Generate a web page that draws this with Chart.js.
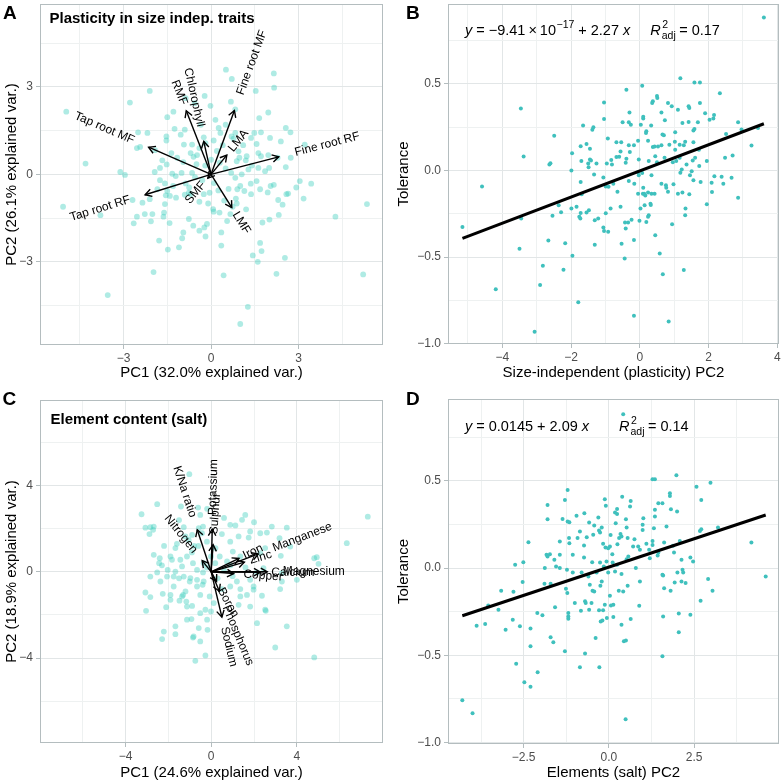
<!DOCTYPE html>
<html><head><meta charset="utf-8">
<script src="https://cdn.jsdelivr.net/npm/chart.js@4.4.1/dist/chart.umd.min.js"></script>
<style>
html,body{margin:0;padding:0;background:#fff;width:783px;height:782px;overflow:hidden}
canvas{position:absolute;display:block}
</style></head><body>
<canvas id="cA" width="391" height="391" style="left:0;top:0"></canvas>
<canvas id="cB" width="392" height="391" style="left:391px;top:0"></canvas>
<canvas id="cC" width="391" height="391" style="left:0;top:391px"></canvas>
<canvas id="cD" width="392" height="391" style="left:391px;top:391px"></canvas>
<script>
// ---------------- DATA ----------------
// Panel A: PCA of size-independent plasticity traits (scores)
const A_pc1 = [-2.10,-2.78,-4.96,-4.30,-1.29,-1.50,-1.25,-0.90,-2.50,-2.18,-2.54,-2.43,-1.53,-1.53,-1.04,-0.93,-0.65,-0.70,-0.48,-1.92,-1.36,-1.16,-1.67,-1.52,-1.75,-1.93,-3.11,-2.95,-1.33,-1.21,-1.01,-0.65,-0.87,-1.58,-1.84,-1.50,-0.76,-0.60,-0.50,-0.95,-0.55,-1.30,-0.90,-1.20,-0.75,-1.75,-2.10,
0.51,2.15,0.71,2.16,1.53,1.96,0.68,0.83,-0.02,-0.22,-0.87,-0.56,1.65,1.71,2.56,2.72,3.21,2.02,1.56,1.62,1.22,1.19,1.71,1.96,2.28,2.39,2.73,2.56,2.64,3.04,3.43,0.15,0.26,0.32,-0.25,-0.19,0.09,0.83,0.77,1.48,1.37,0.94,0.97,0.88,1.28,1.05,0.69,0.83,1.62,1.85,1.99,1.36,1.56,1.00,1.14,1.37,1.94,1.68,2.92,
-5.07,-3.79,-2.69,-2.35,-2.54,-2.27,-2.01,-2.65,-2.06,-1.78,-1.97,-3.54,-1.48,-1.10,-0.99,-1.42,-1.61,-1.63,-1.58,-1.41,-0.95,-0.61,-0.40,-0.23,-0.19,-0.14,-0.76,-0.40,-0.05,0.07,0.09,0.29,0.35,0.35,0.43,0.88,0.85,0.90,1.26,1.00,1.68,1.73,1.43,1.60,2.24,2.53,1.76,2.00,2.32,2.30,2.45,2.58,2.04,2.15,3.17,4.26,5.34,5.21,0.74,0.66,-0.25,-0.70,-1.55,
0.30,0.50,-0.20,0.10,0.60,-0.30,0.20,0.40,-0.40,0.70,0.00,0.45,-0.10,0.25,1.40,1.10,0.50,-0.35,0.55,1.20];
const A_pc2 = [2.86,2.46,2.15,0.37,2.15,1.96,1.56,1.53,1.44,1.42,0.90,0.94,1.30,1.16,1.36,1.02,1.02,0.73,0.66,0.83,0.73,0.57,0.48,0.34,0.22,0.08,0.08,-0.02,0.02,-0.06,0.05,0.05,-0.31,-0.31,-0.51,-0.57,-0.63,0.60,0.35,0.42,-0.10,-0.40,-0.70,-0.80,-0.45,-0.20,-0.85,
3.59,3.46,3.27,2.97,2.86,2.12,2.49,2.23,2.35,2.69,2.61,2.44,1.93,1.44,1.59,1.44,1.02,1.25,1.04,0.73,0.62,0.48,0.62,0.66,0.57,1.13,0.57,0.25,-0.66,-0.23,-0.32,1.87,1.59,1.42,1.27,1.07,1.16,1.42,1.22,1.42,1.25,0.79,0.57,0.45,0.17,0.00,0.05,-0.12,0.22,0.11,0.22,-0.32,-0.23,-0.40,-0.57,-0.68,-0.62,-0.51,-0.45,
-1.11,-1.40,-0.88,-0.97,-1.45,-1.36,-1.36,-1.68,-1.61,-2.27,-3.35,-4.14,-2.58,-2.50,-2.19,-1.67,-1.31,-1.45,-1.02,-0.74,-1.99,-1.76,-1.93,-1.82,-2.13,-1.70,-1.53,-0.94,-0.63,-1.19,-1.28,-1.31,-1.99,-2.44,-3.46,-1.00,-0.83,-0.51,-4.54,-5.13,-2.35,-2.63,-2.78,-3.00,-3.41,-2.86,-1.65,-1.55,-1.39,-0.88,-1.04,-0.68,-0.40,-0.36,-0.83,-1.45,-1.02,-3.43,-1.11,-1.36,-0.68,-0.68,-0.72,
0.40,0.20,0.30,-0.30,-0.50,-0.20,0.80,1.00,0.90,1.30,0.50,-0.90,-1.00,-0.55,0.30,1.00,1.70,1.70,-1.60,-1.20];
// Panel A loadings (arrow tips)
const A_load_names = ["Tap root MF","Tap root RF","RMF","Chlorophyll","Fine root MF","LMA","Fine root RF","LMF","SMF"];
const A_load_pc1 = [-2.14,-2.26,-0.85,-0.25,0.80,0.54,2.32,0.71,-0.11];
const A_load_pc2 = [0.93,-0.70,2.18,1.13,2.19,0.66,0.60,-1.14,-0.13];

// Panel B: tolerance vs size-independent (plasticity) PC2
const B_pc2 = [3.61,1.18,1.59,1.75,2.33,0.07,-0.39,-3.46,-1.04,0.50,0.51,0.38,0.36,0.82,0.93,1.11,1.42,1.44,1.75,-0.30,0.10,0.10,0.63,1.90,2.16,2.14,2.03,-1.04,-1.65,-1.35,-1.38,-0.50,-0.32,-0.26,0.03,0.33,0.73,1.24,1.42,1.69,2.86,3.44,-2.49,-0.93,0.19,0.18,0.66,0.70,1.03,1.56,1.59,2.51,2.96,3.25,-1.55,-1.45,-1.72,-1.97,-0.68,-0.54,-0.32,-0.17,-0.05,0.24,0.38,0.43,0.53,0.63,0.86,1.02,1.16,1.32,1.28,1.56,1.72,1.03,-0.56,-0.29,-0.68,-0.60,-0.83,-0.39,-0.41,-1.45,-1.42,-1.70,-1.50,-1.26,-1.49,-2.63,-2.60,-3.38,-1.99,-0.96,-0.81,-0.03,0.26,0.45,0.50,0.72,0.96,1.06,1.16,1.36,1.54,1.61,1.73,1.95,2.38,2.48,2.70,2.17,-1.33,-1.72,-1.06,-0.77,-0.91,-0.32,-0.16,-0.03,-0.05,0.07,0.34,0.63,0.76,0.98,1.18,1.22,1.46,1.51,1.24,2.09,2.67,2.86,-1.69,0.24,0.34,0.43,0.09,0.82,1.44,1.56,
-4.59,-5.16,-3.45,-3.50,-4.19,-3.06,-2.90,-2.82,-2.66,-2.54,-2.36,-2.29,-2.17,-2.22,-1.96,-1.99,-1.84,-1.76,-1.73,-1.72,-1.79,-1.55,-1.48,-1.31,-1.21,-1.31,-1.06,-1.04,-0.92,-0.99,-0.85,-0.99,-0.65,-0.56,-0.53,-0.43,-0.41,-0.44,-0.34,-0.24,-0.17,-0.17,-0.05,0.02,-0.01,0.10,0.13,0.16,0.14,0.31,0.32,0.26,0.24,0.19,0.45,0.58,0.67,0.84,0.94,0.77,1.11,1.33,1.32,1.28,1.95,2.10,2.43,1.77];
const B_tol = [0.883,0.533,0.508,0.508,0.446,0.489,0.466,0.358,0.393,0.430,0.418,0.400,0.390,0.390,0.370,0.350,0.370,0.360,0.390,0.335,0.310,0.300,0.335,0.330,0.320,0.300,0.293,0.297,0.260,0.250,0.235,0.278,0.278,0.264,0.264,0.259,0.290,0.274,0.280,0.278,0.278,0.245,0.201,0.184,0.226,0.216,0.207,0.203,0.220,0.230,0.240,0.210,0.236,0.144,0.153,0.125,0.140,0.100,0.163,0.163,0.146,0.146,0.172,0.172,0.136,0.138,0.138,0.146,0.149,0.165,0.149,0.165,0.146,0.163,0.120,0.120,0.110,0.107,0.077,0.079,0.061,0.067,0.044,0.063,0.058,0.054,0.040,0.040,0.019,0.034,0.042,0.080,0.000,0.040,0.034,0.063,0.054,0.082,0.048,0.073,0.048,0.054,0.073,0.034,0.057,0.073,0.025,0.054,-0.036,0.073,0.086,-0.034,-0.023,-0.067,-0.040,-0.077,-0.094,-0.061,-0.077,-0.027,-0.010,-0.015,-0.027,-0.077,-0.086,-0.080,-0.013,0.006,-0.027,-0.004,-0.128,-0.071,-0.042,-0.157,-0.138,-0.128,-0.134,-0.134,-0.134,-0.123,-0.138,-0.057,
-0.092,-0.326,-0.278,-0.452,-0.686,-0.931,-0.661,-0.550,-0.404,-0.262,-0.201,-0.241,-0.420,-0.573,-0.492,-0.220,-0.210,-0.268,-0.278,-0.245,-0.761,-0.243,-0.230,-0.287,-0.278,-0.429,-0.330,-0.349,-0.354,-0.247,-0.220,-0.092,-0.123,-0.210,-0.423,-0.301,-0.335,-0.508,-0.301,-0.285,-0.402,-0.839,-0.134,-0.220,-0.291,-0.100,-0.134,-0.144,-0.201,-0.192,-0.199,-0.259,-0.268,-0.297,-0.374,-0.479,-0.600,-0.872,-0.310,-0.100,-0.134,-0.220,-0.259,-0.575,-0.195,-0.124,-0.077,-0.067];
const B_fit_intercept = -0.003;
const B_fit_slope = 0.0755;

// Panel C: PCA of element content (salt)
const C_pc1 = [-1.02,-2.52,-3.25,-0.61,-0.19,-1.41,-0.51,1.59,1.13,1.44,2.83,3.53,2.60,3.19,7.31,6.33,4.93,5.01,4.81,-3.07,-2.84,-2.88,-2.68,-2.40,-2.43,-1.90,-1.83,-2.03,-1.28,-1.20,-1.05,-0.89,-0.58,-0.43,-0.38,0.50,0.89,1.28,1.75,1.01,1.36,0.40,0.74,0.19,-0.01,2.29,2.52,3.25,2.44,2.14,3.30,-1.44,-1.13,-1.36,-0.85,-0.66,-0.35,-0.38,-2.52,-2.84,-2.06,-1.75,-1.67,-1.28,-0.97,-0.66,-0.35,
-2.71,-2.68,-2.20,-1.67,-1.50,-0.80,-0.20,0.89,0.60,2.00,1.82,2.29,3.69,1.20,1.82,1.98,1.36,2.52,2.14,3.53,3.30,4.00,-2.21,-1.67,-1.13,-0.27,-0.82,-1.90,-1.36,-2.37,
-3.07,-2.84,-3.04,-2.26,-1.90,-2.10,-2.29,-1.67,-1.31,-1.16,-1.48,-1.13,-0.89,-0.92,-0.85,-0.74,-0.51,-0.58,-0.27,-0.51,-0.17,-0.19,-0.07,0.12,-0.01,0.89,1.36,1.67,1.98,1.28,1.82,2.37,2.55,3.22,2.99,4.81,-0.66,-0.51,-1.20,-1.75,
-0.20,0.30,-0.40,0.60,0.90,-0.90,-0.60,0.20,0.50,-1.00,-1.50,-2.30,-1.60,1.60,1.00];
const C_pc2 = [4.53,3.14,2.67,2.98,2.92,3.03,2.64,2.64,2.15,2.41,2.10,2.05,1.82,1.56,2.56,1.33,0.68,0.37,0.63,2.05,2.07,1.75,2.10,0.63,0.40,0.71,0.56,0.09,2.07,1.64,1.48,1.71,2.03,1.79,2.10,1.75,1.40,1.64,1.59,0.94,0.71,0.71,0.48,0.40,0.71,0.87,1.10,0.74,0.17,-0.03,-0.06,0.56,0.71,0.25,0.40,0.09,0.40,-0.03,-0.03,-0.22,-0.22,-0.22,0.01,-0.22,-0.29,-0.37,-0.45,
1.95,0.79,1.20,1.10,2.40,1.20,1.40,2.18,2.50,2.30,1.87,1.79,1.17,-0.45,-0.37,-0.83,-1.14,-1.76,-2.38,-2.53,-0.45,-0.37,-2.77,-2.53,-2.22,-1.76,-3.00,-1.30,-1.14,-0.45,
-0.96,-1.17,-1.81,-1.02,-1.07,-1.64,-3.12,-2.89,-1.07,-1.38,-1.34,-1.61,-1.58,-2.19,-3.05,-4.13,-3.23,-2.61,-3.88,-1.92,-2.69,-2.22,-1.14,-1.45,-1.84,-0.68,-0.80,-1.07,-0.68,-1.53,-1.61,-1.11,-1.81,-0.80,-3.51,-3.97,-0.68,-1.07,-0.91,-0.68,
0.20,-0.30,-0.60,0.10,0.30,0.90,1.20,1.10,-0.80,-0.45,-0.30,0.30,1.30,0.20,-0.20];
const C_load_names = ["K/Na ratio","Nitrogen","Potassium","Sulphur","Iron","Manganese","Zinc","Copper","Calcium","Magnesium","Boron","Phosphorus","Sodium"];
const C_load_pc1 = [-0.65,-0.42,0.05,0.09,1.30,2.20,1.55,1.05,2.30,2.62,0.25,0.38,0.50];
const C_load_pc2 = [1.95,0.52,1.98,1.26,0.62,0.83,0.45,-0.08,-0.02,0.00,-0.45,-0.90,-2.10];

// Panel D: tolerance vs elements (salt) PC2
const D_pc2 = [0.42,1.98,1.28,1.35,2.98,2.57,-1.21,-1.29,-1.80,0.39,0.64,-0.12,-0.09,0.24,0.62,1.79,1.79,1.57,2.00,1.82,2.71,3.20,2.71,2.67,4.18,4.60,-1.80,-1.36,-1.21,-1.16,-0.95,-0.72,-0.58,-0.31,-0.43,-0.21,0.18,0.24,0.20,0.50,0.52,0.37,1.01,0.99,0.99,1.35,1.32,1.45,1.69,1.62,1.88,2.08,2.39,2.47,1.91,2.13,2.16,2.18,2.01,2.91,1.43,1.28,1.28,1.57,-1.44,-1.16,-1.17,-0.92,-0.65,-0.46,-0.29,-0.26,-2.36,-0.10,-0.02,0.03,0.25,0.30,0.34,0.55,0.71,0.86,0.91,1.18,-0.17,-0.73,-1.06,-0.73,-0.49,-0.26,-0.07,0.11,0.24,0.52,0.57,0.79,1.20,1.45,-1.83,-1.80,-1.73,-1.44,-1.60,-1.55,-1.44,-1.88,-2.51,-2.75,-1.23,-1.06,-0.80,-0.60,-0.36,-0.15,-0.02,0.18,0.37,1.59,-0.85,0.05,0.75,1.10,1.35,0.10,
-4.30,-4.00,-3.88,-3.63,-3.54,-3.24,-3.16,-3.03,-2.82,-2.80,-2.72,-2.61,-2.53,-2.48,-2.30,-2.30,-2.30,-2.10,-2.09,-1.95,-1.89,-1.71,-1.71,-1.63,-1.58,-1.29,-1.26,-1.22,-1.19,-1.19,-1.19,-1.00,-0.85,-0.82,-0.70,-0.68,-0.70,-0.58,-0.56,-0.51,-0.48,-0.43,-0.39,-0.29,-0.28,-0.24,-0.19,-0.25,-0.21,-0.17,-0.12,-0.06,0.03,0.06,0.13,0.13,0.29,0.42,0.37,0.44,0.50,0.49,0.55,0.64,0.89,0.91,1.59,1.57,1.62,1.81,1.93,2.05,2.05,2.13,2.25,2.39,2.69,3.04];
const D_tol = [0.882,0.532,0.509,0.509,0.490,0.467,0.448,0.391,0.362,0.410,0.385,0.395,0.358,0.339,0.353,0.429,0.414,0.372,0.325,0.338,0.391,0.233,0.223,0.213,0.147,-0.048,0.280,0.282,0.267,0.263,0.300,0.315,0.261,0.290,0.244,0.233,0.319,0.311,0.257,0.280,0.233,0.181,0.286,0.248,0.219,0.296,0.229,0.372,0.238,0.147,0.128,0.156,0.061,0.038,0.090,0.048,-0.010,-0.025,-0.025,-0.063,0.072,0.156,0.133,-0.038,0.153,0.143,0.172,0.172,0.177,0.191,0.216,0.204,0.149,0.118,0.114,0.124,0.137,0.172,0.196,0.172,0.124,0.124,0.105,0.105,0.139,0.130,0.076,0.061,0.034,0.032,0.038,0.032,0.019,0.051,0.067,0.000,0.057,0.090,0.076,0.067,0.080,0.076,0.048,0.009,0.000,0.000,0.034,0.019,-0.010,-0.025,-0.025,-0.048,-0.025,0.009,-0.025,-0.019,-0.034,-0.042,0.210,0.190,0.165,0.140,0.335,0.080,
-0.758,-0.832,-0.330,-0.321,-0.214,-0.239,-0.130,-0.353,-0.296,-0.136,-0.548,-0.334,-0.080,-0.655,-0.347,-0.449,-0.681,-0.258,-0.598,-0.271,-0.090,-0.090,-0.397,-0.426,-0.225,-0.477,-0.118,-0.143,-0.258,-0.277,-0.290,-0.200,-0.569,-0.244,-0.190,-0.200,-0.490,-0.239,-0.095,-0.200,-0.130,-0.134,-0.401,-0.242,-0.569,-0.306,-0.300,-0.101,-0.077,-0.242,-0.210,-0.286,-0.159,-0.214,-0.210,-0.281,-0.130,-0.134,-0.325,-0.420,-0.416,-0.867,-0.101,-0.292,-0.216,-0.077,-0.277,-0.506,-0.115,-0.130,-0.082,-0.260,-0.368,-0.077,-0.086,-0.267,-0.187,-0.130];
const D_fit_intercept = 0.006;
const D_fit_slope = 0.0649;

// Axis breaks
const A_major = [-3,0,3], A_minor = [-4.5,-1.5,1.5,4.5];
const B_xmajor = [-4,-2,0,2,4], B_xminor = [-5,-3,-1,1,3];
const TOL_major = [-1,-0.5,0,0.5], TOL_minor = [-0.75,-0.25,0.25,0.75];
const C_major = [-4,0,4], C_minor = [-6,-2,2,6];
const D_xmajor = [-2.5,0,2.5], D_xminor = [-3.75,-1.25,1.25,3.75];

// Texts
const A_xtitle = "PC1 (32.0% explained var.)", A_ytitle = "PC2 (26.1% explained var.)";
const C_xtitle = "PC1 (24.6% explained var.)", C_ytitle = "PC2 (18.9% explained var.)";
const B_xtitle = "Size-independent (plasticity) PC2", D_xtitle = "Elements (salt) PC2", TOL_title = "Tolerance";
const A_title = "Plasticity in size indep. traits", C_title = "Element content (salt)";

// ---------------- STYLE / HELPERS ----------------
const FONT = '"Liberation Sans", Arial, Helvetica, sans-serif';
const TICK_TXT = '#4d4d4d', GRID_MAJ = '#e2e6e7', GRID_MIN = '#eef1f1', FRAME = '#b4bdbf';
const PCA_PT = 'rgba(64,208,190,0.42)', REG_PT = '#3fc0bd';

function fmt(v, d){ const s = Math.abs(v).toFixed(d); return (v < -1e-9 ? '\u2212' : '') + s; }
function pts(xs, ys){ return xs.map((x,i)=>({x:x, y:ys[i]})); }

function mkScale(axis, range, majors, minors, dec, size){
  const all = majors.concat(minors).sort((a,b)=>a-b);
  const isMaj = v => majors.some(m => Math.abs(m - v) < 1e-9);
  return {
    type:'linear', position: axis==='x' ? 'bottom' : 'left', min: range[0], max: range[1], bounds:'data',
    afterBuildTicks(s){ s.ticks = all.map(v=>({value:v})); },
    afterFit(s){ if(axis==='x') s.height = size; else s.width = size;
      s.paddingLeft = 0; s.paddingRight = 0; s.paddingTop = 0; s.paddingBottom = 0; },
    ticks:{ autoSkip:false, maxRotation:0, minRotation:0, padding: axis==='x' ? 2 : 3, color:TICK_TXT,
      font:{family:FONT, size:12}, callback:(v)=> isMaj(v) ? fmt(v, dec) : '' },
    grid:{ drawOnChartArea:true, drawTicks:true, tickLength:4, lineWidth:1,
      color: c => isMaj(c.tick ? c.tick.value : NaN) ? GRID_MAJ : GRID_MIN,
      tickColor: c => isMaj(c.tick ? c.tick.value : NaN) ? FRAME : 'rgba(0,0,0,0)' },
    border:{display:false},
    title:{display:false}
  };
}

function decorPlugin(cfg){
  return { id:'decor', afterDraw(chart){
    const ctx = chart.ctx, a = chart.chartArea;
    ctx.save();
    ctx.strokeStyle = FRAME; ctx.lineWidth = 1;
    ctx.strokeRect(Math.round(a.left)+0.5, Math.round(a.top)+0.5, Math.round(a.right-a.left)-1, Math.round(a.bottom-a.top)-1);
    ctx.fillStyle = '#000';
    ctx.font = 'bold 19px ' + FONT; ctx.textAlign = 'left'; ctx.textBaseline = 'alphabetic';
    ctx.fillText(cfg.letter, cfg.letterX, cfg.letterY);
    if (cfg.title){ ctx.font = 'bold 15px ' + FONT; ctx.fillText(cfg.title, cfg.titleX, cfg.titleY); }
    ctx.font = '15px ' + FONT; ctx.textAlign = 'center'; ctx.textBaseline = 'middle';
    ctx.fillText(cfg.xtitle, (a.left + a.right)/2, cfg.xtitleY);
    ctx.save(); ctx.translate(cfg.ytitleX, (a.top + a.bottom)/2); ctx.rotate(-Math.PI/2);
    ctx.fillText(cfg.ytitle, 0, 0); ctx.restore();
    if (cfg.eq){
      let x = a.left + cfg.eqDX, y = a.top + cfg.eqDY;
      ctx.textAlign = 'left'; ctx.textBaseline = 'alphabetic';
      for (const p of cfg.eq){
        if (p.gap){ x += p.gap; continue; }
        if (p.stack){
          ctx.font = '10.5px ' + FONT;
          const w1 = ctx.measureText(p.stack[0]).width, w2 = ctx.measureText(p.stack[1]).width;
          ctx.fillText(p.stack[0], x + 1.5, y - 6.5);
          ctx.fillText(p.stack[1], x + 1, y + 4.5);
          x += Math.max(w1, w2) + 1.5; continue;
        }
        if (p.sup){ ctx.font = '10.5px ' + FONT; ctx.fillText(p.t, x + 0.5, y - 7); x += ctx.measureText(p.t).width + 0.5; continue; }
        ctx.font = (p.it ? 'italic ' : '') + '14.5px ' + FONT;
        ctx.fillText(p.t, x, y); x += ctx.measureText(p.t).width;
      }
    }
    ctx.restore();
  }};
}

function biplotPlugin(names, xs, ys){
  return { id:'biplot', afterDatasetsDraw(chart){
    const ctx = chart.ctx, sx = chart.scales.x, sy = chart.scales.y;
    const ox = sx.getPixelForValue(0), oy = sy.getPixelForValue(0);
    ctx.save();
    ctx.strokeStyle = '#000'; ctx.lineWidth = 1.4; ctx.lineJoin = 'miter';
    const tips = [];
    for (let i = 0; i < names.length; i++){
      const tx = sx.getPixelForValue(xs[i]), ty = sy.getPixelForValue(ys[i]);
      tips.push([tx, ty]);
      ctx.beginPath(); ctx.moveTo(ox, oy); ctx.lineTo(tx, ty); ctx.stroke();
      const ang = Math.atan2(ty - oy, tx - ox), L = 7.5, h = Math.PI/6;
      ctx.beginPath();
      ctx.moveTo(tx - L*Math.cos(ang - h), ty - L*Math.sin(ang - h));
      ctx.lineTo(tx, ty);
      ctx.lineTo(tx - L*Math.cos(ang + h), ty - L*Math.sin(ang + h));
      ctx.stroke();
    }
    ctx.fillStyle = '#000'; ctx.font = '12px ' + FONT; ctx.textBaseline = 'middle'; ctx.textAlign = 'left';
    for (let i = 0; i < names.length; i++){
      const [tx, ty] = tips[i];
      const rot = Math.atan((ty - oy) / (tx - ox));
      const hjust = (1 - 1.5 * Math.sign(xs[i])) / 2;
      const w = ctx.measureText(names[i]).width;
      ctx.save(); ctx.translate(tx, ty); ctx.rotate(rot);
      ctx.fillText(names[i], -hjust * w, 0);
      ctx.restore();
    }
    ctx.restore();
  }};
}

function baseOptions(pad, xs, ys){
  return { responsive:false, animation:false, devicePixelRatio:1,
    layout:{ padding:{ top:pad[0], right:pad[1], bottom:0, left:0 } },
    plugins:{ legend:{display:false}, tooltip:{enabled:false} },
    scales:{ x: xs, y: ys } };
}

function fitLine(xs, a, b){
  const lo = Math.min(...xs), hi = Math.max(...xs);
  return [{x:lo, y:a + b*lo}, {x:hi, y:a + b*hi}];
}

// ---------------- CHARTS ----------------
new Chart(document.getElementById('cA'), {
  type:'scatter',
  data:{ datasets:[{ data: pts(A_pc1, A_pc2), pointRadius:2.9, pointBackgroundColor:PCA_PT, pointBorderWidth:0 }] },
  options: baseOptions([2, 8],
    mkScale('x', [-5.86, 5.89], A_major, A_minor, 0, 46),
    mkScale('y', [-5.85, 5.84], A_major, A_minor, 0, 40)),
  plugins:[ biplotPlugin(A_load_names, A_load_pc1, A_load_pc2),
    decorPlugin({letter:'A', letterX:3, letterY:19, title:A_title, titleX:49.5, titleY:23,
      xtitle:A_xtitle, xtitleY:372.5, ytitle:A_ytitle, ytitleX:12}) ]
});

new Chart(document.getElementById('cB'), {
  type:'scatter',
  data:{ datasets:[
    { data: fitLine(B_pc2, B_fit_intercept, B_fit_slope), showLine:true, borderColor:'#000', borderWidth:3, pointRadius:0, order:0 },
    { data: pts(B_pc2, B_tol), pointRadius:2, pointBackgroundColor:REG_PT, pointBorderWidth:0, order:1 } ] },
  options: baseOptions([2, 2],
    mkScale('x', [-5.58, 4.05], B_xmajor, B_xminor, 0, 47),
    mkScale('y', [-1.002, 0.961], TOL_major, TOL_minor, 1, 57)),
  plugins:[ decorPlugin({letter:'B', letterX:15, letterY:19,
    xtitle:B_xtitle, xtitleY:372.5, ytitle:TOL_title, ytitleX:13,
    eqDX:17, eqDY:30.5,
    eq:[{t:'y',it:true},{gap:4},{t:'='},{gap:4},{t:'\u22129.41'},{gap:3},{t:'\u00d7'},{gap:3},{t:'10'},{t:'\u221217',sup:true},{gap:4},{t:'+'},{gap:4},{t:'2.27'},{gap:4},{t:'x',it:true},{gap:20},{t:'R',it:true},{stack:['2','adj']},{gap:3},{t:'='},{gap:4},{t:'0.17'}] }) ]
});

new Chart(document.getElementById('cC'), {
  type:'scatter',
  data:{ datasets:[{ data: pts(C_pc1, C_pc2), pointRadius:2.9, pointBackgroundColor:PCA_PT, pointBorderWidth:0 }] },
  options: baseOptions([9, 8],
    mkScale('x', [-7.99, 8.02], C_major, C_minor, 0, 39),
    mkScale('y', [-7.94, 7.97], C_major, C_minor, 0, 40)),
  plugins:[ biplotPlugin(C_load_names, C_load_pc1, C_load_pc2),
    decorPlugin({letter:'C', letterX:2.5, letterY:13.5, title:C_title, titleX:50.5, titleY:32.5,
      xtitle:C_xtitle, xtitleY:381.5, ytitle:C_ytitle, ytitleX:12}) ]
});

new Chart(document.getElementById('cD'), {
  type:'scatter',
  data:{ datasets:[
    { data: fitLine(D_pc2, D_fit_intercept, D_fit_slope), showLine:true, borderColor:'#000', borderWidth:3, pointRadius:0, order:0 },
    { data: pts(D_pc2, D_tol), pointRadius:2, pointBackgroundColor:REG_PT, pointBorderWidth:0, order:1 } ] },
  options: baseOptions([8, 2],
    mkScale('x', [-4.72, 4.99], D_xmajor, D_xminor, 1, 38),
    mkScale('y', [-1.009, 0.97], TOL_major, TOL_minor, 1, 57)),
  plugins:[ decorPlugin({letter:'D', letterX:15, letterY:13.5,
    xtitle:D_xtitle, xtitleY:381.5, ytitle:TOL_title, ytitleX:13,
    eqDX:17, eqDY:31.5,
    eq:[{t:'y',it:true},{gap:4},{t:'='},{gap:4},{t:'0.0145'},{gap:4},{t:'+'},{gap:4},{t:'2.09'},{gap:4},{t:'x',it:true},{gap:30},{t:'R',it:true},{stack:['2','adj']},{gap:3},{t:'='},{gap:4},{t:'0.14'}] }) ]
});
</script>
</body></html>
